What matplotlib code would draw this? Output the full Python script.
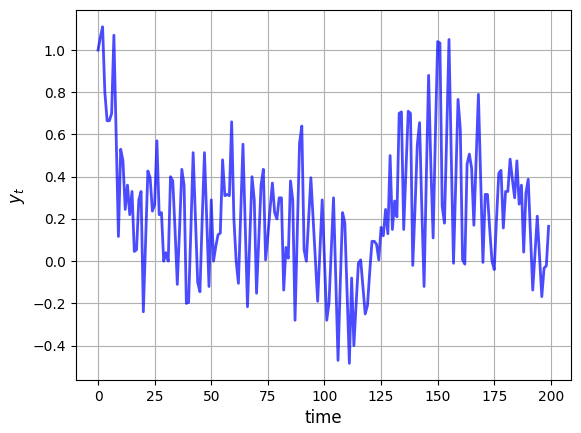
import numpy as np
import matplotlib.pyplot as plt

# series, one value per time step (t = 0..199)
y = [1.00, 1.06, 1.11, 0.80, 0.665, 0.665, 0.70, 1.07, 0.60, 0.117,
     0.53, 0.475, 0.245, 0.36, 0.22, 0.33, 0.046, 0.054, 0.29, 0.33,
     -0.24, 0.10, 0.427, 0.395, 0.237, 0.268, 0.57, 0.22, 0.23, 0.00,
     0.04, 0.00, 0.40, 0.38, 0.15, -0.11, 0.15, 0.435, 0.36, -0.20,
     -0.195, 0.15, 0.514, 0.20, -0.10, -0.145, 0.20, 0.514, 0.20, -0.12,
     0.29, 0.00, 0.07, 0.125, 0.133, 0.48, 0.31, 0.316, 0.31, 0.66,
     0.20, 0.00, -0.105, 0.22, 0.554, 0.17, -0.216, 0.10, 0.40, 0.29,
     -0.152, 0.10, 0.36, 0.435, 0.006, 0.12, 0.25, 0.37, 0.23, 0.20,
     0.30, 0.30, -0.137, 0.065, 0.014, 0.38, 0.29, -0.28, 0.15, 0.56,
     0.64, 0.054, 0.00, 0.20, 0.395, 0.20, 0.00, -0.19, 0.05, 0.29,
     0.00, -0.28, -0.20, 0.05, 0.30, -0.08, -0.47, -0.10, 0.23, 0.18,
     -0.15, -0.484, -0.08, -0.40, -0.20, -0.01, 0.006, -0.12, -0.25, -0.21,
     -0.05, 0.094, 0.094, 0.08, 0.006, 0.16, 0.12, 0.245, 0.13, 0.50,
     0.15, 0.285, 0.21, 0.70, 0.707, 0.15, 0.43, 0.71, 0.70, -0.02,
     0.25, 0.55, 0.656, 0.25, -0.12, 0.40, 0.88, 0.45, 0.11, 0.60,
     1.04, 1.033, 0.26, 0.18, 0.60, 1.05, 0.50, -0.01, 0.38, 0.766,
     0.626, 0.006, -0.014, 0.46, 0.507, 0.44, 0.17, 0.48, 0.79, 0.40,
     -0.006, 0.316, 0.316, 0.15, 0.00, -0.04, 0.20, 0.416, 0.43, 0.157,
     0.33, 0.33, 0.483, 0.388, 0.30, 0.475, 0.27, 0.36, 0.043, 0.324,
     0.388, 0.13, -0.137, 0.04, 0.213, 0.02, -0.168, -0.033, -0.022, 0.165]
t = np.arange(len(y))

fig, ax = plt.subplots(figsize=(5.81, 4.33), dpi=100)
fig.subplots_adjust(left=0.13, right=0.983, top=0.977, bottom=0.122)
ax.plot(t, y, color='blue', alpha=0.7, lw=2)
ax.set_xlabel('time', fontsize=12)
ax.set_ylabel('$y_t$', fontsize=12)
ax.grid(True)
fig.savefig('out.png')
